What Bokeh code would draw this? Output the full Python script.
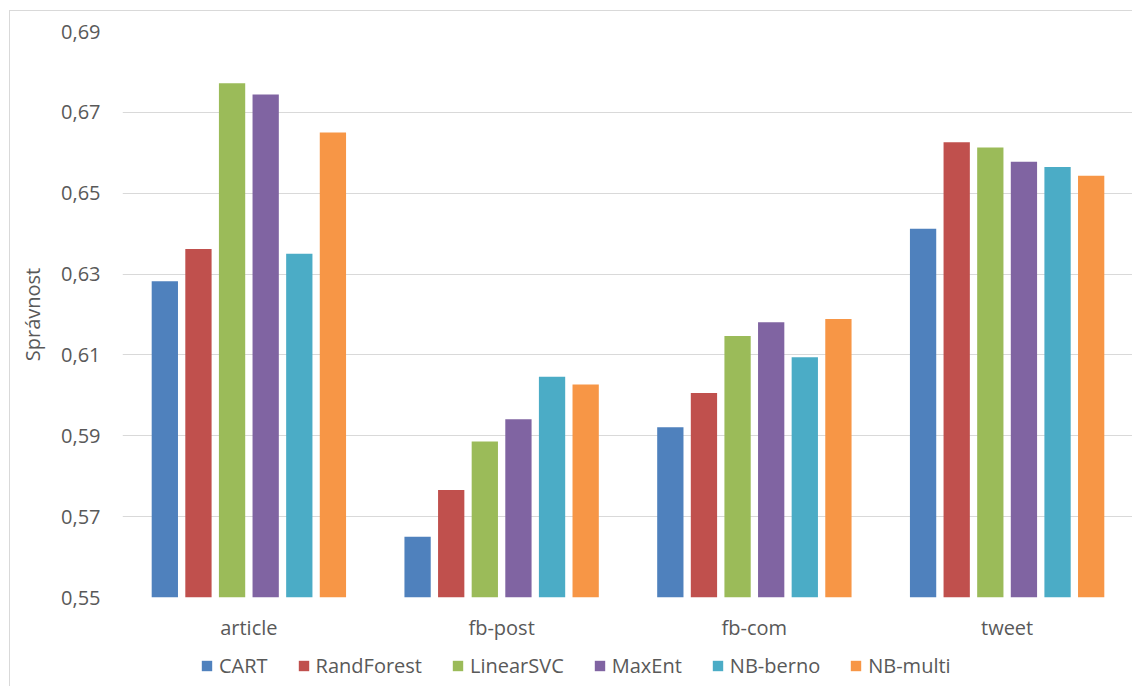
from bokeh.plotting import figure
from bokeh.layouts import column
from bokeh.models import ColumnDataSource, FactorRange, Range1d, Legend, LegendItem, CustomJSTickFormatter, FixedTicker
from bokeh.transform import dodge
from bokeh.embed import file_html
from bokeh.resources import INLINE

# Accuracy of each classifier per text source
categories = ["article", "fb-post", "fb-com", "tweet"]
models = ["CART", "RandForest", "LinearSVC", "MaxEnt", "NB-berno", "NB-multi"]
cart = [0.6282, 0.5650, 0.5921, 0.6412]
randforest = [0.6362, 0.5766, 0.6006, 0.6626]
linearsvc = [0.6772, 0.5886, 0.6147, 0.6613]
maxent = [0.6744, 0.5941, 0.6181, 0.6578]
nb_berno = [0.6350, 0.6046, 0.6094, 0.6565]
nb_multi = [0.6650, 0.6027, 0.6189, 0.6543]
y_ticks = [0.55, 0.57, 0.59, 0.61, 0.63, 0.65, 0.67, 0.69]

colors = ["#4F81BD", "#C0504D", "#9BBB59", "#8064A2", "#4BACC6", "#F79646"]
series = [cart, randforest, linearsvc, maxent, nb_berno, nb_multi]

data = {"cat": categories}
for name, vals in zip(models, series):
    data[name] = vals
source = ColumnDataSource(data)

FONT = "Open Sans"
TXT = "#595959"

# main bar chart
p = figure(
    x_range=FactorRange(*categories, range_padding=0),
    y_range=Range1d(0.55, 0.69),
    width=1123, height=640,
    output_backend="svg", toolbar_location=None,
    min_border_left=112, min_border_right=0,
    min_border_top=20, min_border_bottom=54,
)
p.outline_line_color = None
p.background_fill_color = "white"
p.border_fill_color = "white"

step = 0.133
width = 0.104
for i, (name, col) in enumerate(zip(models, colors)):
    off = (i - 2.5) * step
    p.vbar(x=dodge("cat", off, range=p.x_range), top=name, bottom=0.55,
           width=width, source=source, fill_color=col, line_color=None)

p.yaxis.ticker = FixedTicker(ticks=y_ticks)
p.yaxis.formatter = CustomJSTickFormatter(code="return tick.toFixed(2).replace('.', ',');")
for ax in (p.xaxis[0], p.yaxis[0]):
    ax.axis_line_color = None
    ax.major_tick_line_color = None
    ax.minor_tick_line_color = None
    ax.major_tick_out = 0
    ax.major_tick_in = 0
    ax.minor_tick_out = 0
    ax.minor_tick_in = 0
    ax.major_label_text_font = FONT
    ax.major_label_text_font_size = "20px"
    ax.major_label_text_color = TXT
p.yaxis.major_label_standoff = 22
p.xaxis.major_label_standoff = 16
p.yaxis.axis_label = "Správnost"
p.yaxis.axis_label_text_font = FONT
p.yaxis.axis_label_text_font_size = "20px"
p.yaxis.axis_label_text_font_style = "normal"
p.yaxis.axis_label_text_color = TXT
p.yaxis.axis_label_standoff = 12

p.xgrid.grid_line_color = None
p.ygrid.grid_line_color = "#d9d9d9"
p.ygrid.grid_line_width = 1

# legend strip under the chart (swatch renderers sit outside the visible range)
leg = figure(
    width=1123, height=36, x_range=Range1d(0, 1), y_range=Range1d(0, 1),
    output_backend="svg", toolbar_location=None,
    min_border_left=0, min_border_right=0, min_border_top=0, min_border_bottom=0,
)
leg.axis.visible = False
leg.grid.visible = False
leg.outline_line_color = None
leg.background_fill_color = "white"
leg.border_fill_color = "white"

items = []
for name, col in zip(models, colors):
    r = leg.vbar(x=[-10], top=[-10], bottom=[-11], width=0.1, fill_color=col, line_color=None)
    items.append(LegendItem(label=name, renderers=[r]))

legend = Legend(items=items, orientation="horizontal", location=(78, 8),
                glyph_width=13, glyph_height=13, label_standoff=6, spacing=29,
                padding=0, margin=0, border_line_color=None, background_fill_alpha=0,
                label_text_font=FONT, label_text_font_size="20px", label_text_color=TXT)
leg.add_layout(legend, "center")

layout = column(p, leg, spacing=0)
layout.margin = (10, 0, 0, 9)
layout.styles = {"border-top": "1px solid #d9d9d9", "border-left": "1px solid #d9d9d9"}

open("out.html", "w").write(file_html(layout, INLINE))
